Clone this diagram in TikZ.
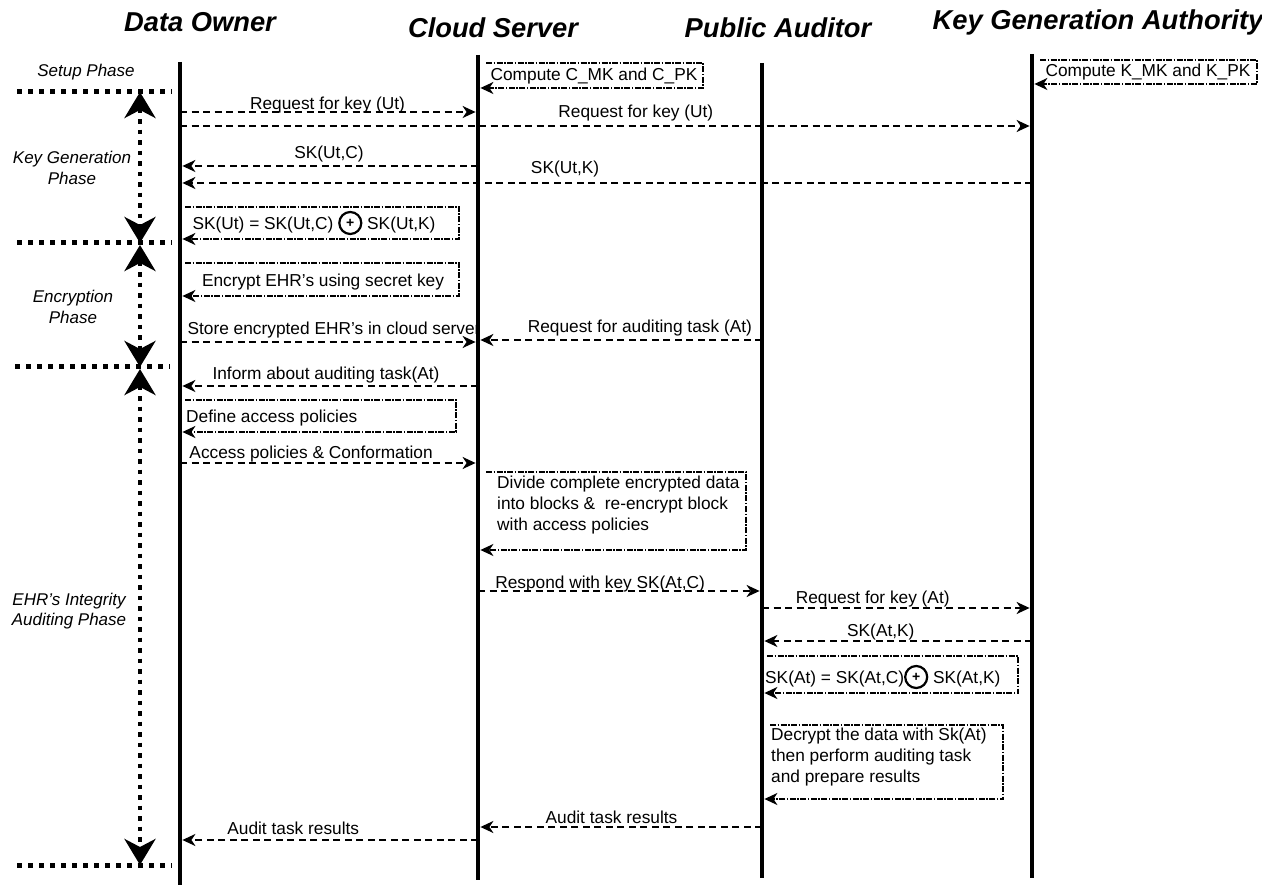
\documentclass[tikz,border=0pt]{standalone}
\usepackage{fontspec}
\setmainfont{Liberation Sans}
\usetikzlibrary{arrows.meta,calc}
\newcommand\cplus{\tikz[baseline=-0.75ex]\node[circle,draw,line width=2.2pt,inner sep=0pt,minimum size=22pt,font=\fontsize{14}{14}\selectfont\bfseries]{+};}
\begin{document}
\begin{tikzpicture}[x=1pt,y=-1pt,
  life/.style={line width=4.8pt},
  msg/.style={line width=1.9pt, dash pattern=on 7pt off 4.5pt, -{Stealth[length=13pt,width=12pt,inset=4pt]}, shorten >=2.4pt},
  selfloop/.style={line width=1.9pt, dash pattern=on 6pt off 1.5pt on 1.5pt off 1.5pt, -{Stealth[length=13pt,width=12pt,inset=4pt]}, shorten >=2.4pt},
  lbl/.style={font=\fontsize{17.3}{21}\selectfont, inner sep=0pt, anchor=base},
  boxtext/.style={font=\fontsize{17.3}{21}\selectfont, inner sep=0pt, align=left},
  title/.style={font=\fontsize{27.3}{32}\selectfont\bfseries\itshape, inner sep=0pt},
  phase/.style={font=\fontsize{17}{20.5}\selectfont\itshape, align=center, inner sep=0pt},
  sep/.style={line width=5pt, dash pattern=on 5pt off 6pt},
  span/.style={line width=4.5pt, dash pattern=on 4.5pt off 6pt, {Stealth[length=26pt,width=31pt,inset=8pt]}-{Stealth[length=26pt,width=31pt,inset=8pt]}}
]
\useasboundingbox (0,0) rectangle (1262,890);

% titles
\node[title] (tDO) at (200,22) {Data Owner};
\node[title] (tCS) at (493,28) {Cloud Server};
\node[title] (tPA) at (778,28) {Public Auditor};
\node[title] (tKG) at (1098,22) {Key Generation Authority};

% lifelines
\coordinate (DO) at (180,62);  \coordinate (DOb) at (180,885);
\coordinate (CS) at (478,55);  \coordinate (CSb) at (478,880);
\coordinate (PA) at (762,63);  \coordinate (PAb) at (762,878);
\coordinate (KG) at (1032,54); \coordinate (KGb) at (1032,878);
\draw[life] (DO) -- (DOb);
\draw[life] (CS) -- (CSb);
\draw[life] (PA) -- (PAb);
\draw[life] (KG) -- (KGb);

% phases
\coordinate (s1a) at (17,92);  \coordinate (s1b) at (172,92);
\coordinate (s2a) at (17,243); \coordinate (s2b) at (172,243);
\coordinate (s3a) at (15,367); \coordinate (s3b) at (170,367);
\coordinate (s4a) at (17,865); \coordinate (s4b) at (172,865);
\coordinate (v1) at (140,92);
\coordinate (v2) at (140,243);
\coordinate (v2b) at (140,245);
\coordinate (v3) at (140,367);
\coordinate (v3b) at (140,369);
\coordinate (v4) at (140,865);
\draw[sep] (s1a) -- (s1b);
\draw[sep] (s2a) -- (s2b);
\draw[sep] (s3a) -- (s3b);
\draw[sep] (s4a) -- (s4b);
\draw[span] (v1) -- (v2);
\draw[span] (v2b) -- (v3);
\draw[span] (v3b) -- (v4);
\node[phase] (pSetup) at (86,72) {Setup Phase};
\node[phase] (pKey) at (72,168) {Key Generation\\Phase};
\node[phase] (pEnc) at (73,307) {Encryption\\Phase};
\node[phase] (pAud) at (69,611) {EHR's Integrity\\Auditing Phase};

% setup self loops
\node[boxtext] (bC) at (594,76) {Compute C\_MK and C\_PK};
\draw[selfloop] ($(CS|-0,63)+(8,0)$) -| (703,88) -- (CS|-0,88);
\node[boxtext] (bK) at (1148,72) {Compute K\_MK and K\_PK};
\draw[selfloop] ($(KG|-0,60)+(8,0)$) -| (1257,84) -- (KG|-0,84);

% key generation
\draw[msg] (DO|-0,112) -- node[lbl,pos=0.495,yshift=2pt]{Request for key (Ut)} (CS|-0,112);
\draw[msg] (DO|-0,126) -- node[lbl,pos=0.535,yshift=8pt]{Request for key (Ut)} (KG|-0,126);
\draw[msg] (CS|-0,166) -- node[lbl,pos=0.5,yshift=7pt]{SK(Ut,C)} (DO|-0,166);
\draw[msg] (KG|-0,183) -- node[lbl,pos=0.548,yshift=9pt]{SK(Ut,K)} (DO|-0,183);
\node[boxtext] (bF1) at (314,223) {SK(Ut) = SK(Ut,C) \cplus\ SK(Ut,K)};
\draw[selfloop] ($(DO|-0,207)+(5,0)$) -| (459,239) -- (DO|-0,239);

% encryption
\node[boxtext] (bE) at (323,282) {Encrypt EHR's using secret key};
\draw[selfloop] ($(DO|-0,263)+(5,0)$) -| (459,296) -- (DO|-0,296);
\draw[msg] (DO|-0,342) -- node[lbl,pos=0.517,yshift=7pt]{Store encrypted EHR's in cloud server} (CS|-0,342);

% auditing
\draw[msg] (PA|-0,340) -- node[lbl,pos=0.43,yshift=7pt]{Request for auditing task (At)} (CS|-0,340);
\draw[msg] (CS|-0,386) -- node[lbl,pos=0.51,yshift=6pt]{Inform about auditing task(At)} (DO|-0,386);
\node[boxtext,anchor=west] (bD) at (186,418) {Define access policies};
\draw[selfloop] ($(DO|-0,400)+(5,0)$) -| (456,432) -- (DO|-0,432);
\draw[msg] (DO|-0,463) -- node[lbl,pos=0.44,yshift=4pt]{Access policies \& Conformation} (CS|-0,463);
\node[boxtext,anchor=north west] (bDiv) at (497,476) {Divide complete encrypted data\\into blocks \&\ \ re-encrypt block\\with access policies};
\draw[selfloop] ($(CS|-0,472)+(8,0)$) -| (746,550) -- (CS|-0,550);
\draw[msg] (CS|-0,591) -- node[lbl,pos=0.43,yshift=3pt]{Respond with key SK(At,C)} (PA|-0,591);
\draw[msg] (PA|-0,608) -- node[lbl,pos=0.41,yshift=5pt]{Request for key (At)} (KG|-0,608);
\draw[msg] (KG|-0,641) -- node[lbl,pos=0.56,yshift=5pt]{SK(At,K)} (PA|-0,641);
\node[boxtext,anchor=west] (bF2) at (765,677) {SK(At) = SK(At,C)\cplus\ SK(At,K)};
\draw[selfloop] ($(PA|-0,656)+(5,0)$) -| (1018,693) -- (PA|-0,693);
\node[boxtext,anchor=north west] (bDec) at (771,728) {Decrypt the data with Sk(At)\\then perform auditing task\\and prepare results};
\draw[selfloop] ($(PA|-0,725)+(8,0)$) -| (1003,799) -- (PA|-0,799);
\draw[msg] (PA|-0,827) -- node[lbl,pos=0.53,yshift=4pt]{Audit task results} (CS|-0,827);
\draw[msg] (CS|-0,840) -- node[lbl,pos=0.62,yshift=6pt]{Audit task results} (DO|-0,840);
\end{tikzpicture}
\end{document}
